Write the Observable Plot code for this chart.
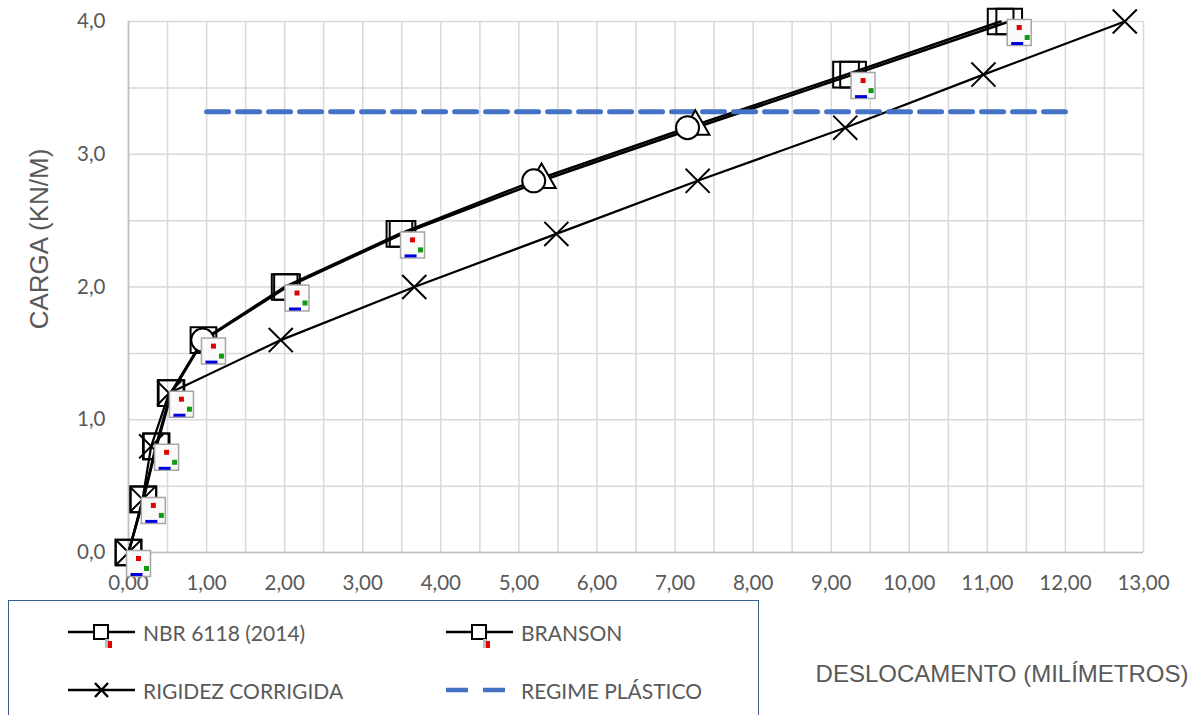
<!DOCTYPE html>
<html><head><meta charset="utf-8">
<script src="https://cdn.jsdelivr.net/npm/d3@7"></script>
<script src="https://cdn.jsdelivr.net/npm/@observablehq/plot@0.6"></script>
<style>
html,body{margin:0;padding:0;background:#fff;}
#wrap{position:relative;width:1200px;height:715px;overflow:hidden;}
#legend{position:absolute;left:8px;top:600px;width:751px;height:140px;border:1.5px solid #385D8A;box-sizing:border-box;background:#fff;}
.item{position:absolute;display:flex;align-items:center;font-family:Lato,sans-serif;font-size:21px;color:#595959;white-space:nowrap;}
.item svg{margin-right:8px;overflow:visible}
</style></head>
<body><div id="wrap"></div>
<script>
// ---- data ----
const loads = [0, 0.4, 0.8, 1.2, 1.6, 2.0, 2.4, 2.8, 3.2, 3.6, 4.0];
const nbrDisp = [0, 0.19, 0.35, 0.54, 0.95, 2.00, 3.47, 5.19, 7.16, 9.19, 11.17];
const bransonDisp = [0, 0.19, 0.36, 0.55, 0.96, 2.03, 3.51, 5.29, 7.26, 9.28, 11.28];
const rigidezDisp = [0, 0.18, 0.29, 0.52, 1.95, 3.66, 5.48, 7.29, 9.18, 10.95, 12.76];
const plasticLoad = 3.32;
const plasticDisp = [1.0, 12.0];
const xTicks = [0,1,2,3,4,5,6,7,8,9,10,11,12,13];
const yTicks = [0,1,2,3,4];
const seriesNames = ["NBR 6118 (2014)", "BRANSON", "RIGIDEZ CORRIGIDA", "REGIME PLÁSTICO"];
const xTitle = "DESLOCAMENTO (MILÍMETROS)";
const yTitle = "CARGA (KN/M)";

// ---- build ----
const nbr = loads.map((y, i) => ({x: nbrDisp[i], y, i}));
const branson = loads.map((y, i) => ({x: bransonDisp[i], y, i}));
const rigidez = loads.map((y, i) => ({x: rigidezDisp[i], y, i}));
const plastic = plasticDisp.map(x => ({x, y: plasticLoad}));

const nbrCircle = new Set([4, 7, 8]);
const bransonTri = new Set([7, 8]);
const pics = branson.filter(d => !bransonTri.has(d.i));

const sym = (f) => ({draw(ctx){ f(ctx); }});
const frameSym = sym(c => c.rect(-12, -13, 24, 26));
const dotSym = sym(c => c.rect(-2.5, -2.5, 5, 5));
const barSym = sym(c => c.rect(-6, -1.5, 12, 3));

const fmtX = d => d.toFixed(2).replace(".", ",");
const fmtY = d => d.toFixed(1).replace(".", ",");
const grid = {stroke: "#d9d9d9", strokeOpacity: 1, strokeWidth: 1.5};

const chart = Plot.plot({
  width: 1200, height: 715,
  marginLeft: 128, marginRight: 57, marginTop: 21, marginBottom: 163,
  style: {fontFamily: "Lato, sans-serif", fontSize: "20px", color: "#595959", background: "#fff"},
  x: {domain: [0, 13]},
  y: {domain: [0, 4]},
  marks: [
    Plot.gridX(d3.range(0, 13.01, 0.5), grid),
    Plot.gridY(d3.range(0, 4.01, 0.5), grid),
    Plot.ruleX([0], {stroke: "#bfbfbf", strokeWidth: 1.5}),
    Plot.ruleY([0], {stroke: "#bfbfbf", strokeWidth: 1.5}),
    Plot.axisX(xTicks, {tickFormat: fmtX, tickSize: 0, tickPadding: 23, label: null, fontSize: 20.5}),
    Plot.axisY(yTicks, {tickFormat: fmtY, tickSize: 0, tickPadding: 23, label: null, fontSize: 20.5}),
    Plot.text([xTitle], {frameAnchor: "bottom-right", textAnchor: "end", lineAnchor: "middle", dx: 45, dy: 122,
      fontFamily: "Liberation Sans, Arial, sans-serif", fontSize: 24, fill: "#595959"}),
    Plot.text([yTitle], {frameAnchor: "left", rotate: -90, textAnchor: "middle", lineAnchor: "middle", dx: -89, dy: -48,
      fontFamily: "Liberation Sans, Arial, sans-serif", fontSize: 26, fill: "#595959"}),
    // lines
    Plot.line(rigidez, {x: "x", y: "y", stroke: "#000", strokeWidth: 2.25}),
    Plot.line(branson, {x: "x", y: "y", stroke: "#000", strokeWidth: 2.5}),
    Plot.line(nbr, {x: "x", y: "y", stroke: "#000", strokeWidth: 2.5}),
    Plot.line(plastic, {x: "x", y: "y", stroke: "#4472C4", strokeWidth: 5, strokeDasharray: "22 9"}),
    // markers
    Plot.dot(rigidez, {x: "x", y: "y", symbol: "times", r: 11, stroke: "#000", strokeWidth: 2}),
    Plot.dot(branson.filter(d => !bransonTri.has(d.i)), {x: "x", y: "y", symbol: "square", r: 14.5, stroke: "#000", strokeWidth: 2, fill: "none"}),
    Plot.dot(branson.filter(d => bransonTri.has(d.i)), {x: "x", y: "y", symbol: "triangle", r: 10.5, dy: -1, stroke: "#000", strokeWidth: 2, fill: "#fff"}),
    Plot.dot(nbr.filter(d => !nbrCircle.has(d.i)), {x: "x", y: "y", symbol: "square", r: 14.5, stroke: "#000", strokeWidth: 2, fill: "none"}),
    Plot.dot(nbr.filter(d => nbrCircle.has(d.i)), {x: "x", y: "y", symbol: "circle", r: 11.5, stroke: "#000", strokeWidth: 2, fill: "#fff"}),
    // picture markers
    Plot.dot(pics, {x: "x", y: "y", symbol: frameSym, dx: 10, dy: 11, fill: "#fafafa", stroke: "#a6a6a6", strokeWidth: 1.5}),
    Plot.dot(pics, {x: "x", y: "y", symbol: dotSym, dx: 10, dy: 6, fill: "#e00000"}),
    Plot.dot(pics, {x: "x", y: "y", symbol: dotSym, dx: 18, dy: 16, fill: "#119911"}),
    Plot.dot(pics, {x: "x", y: "y", symbol: barSym, dx: 8, dy: 22, fill: "#0000dd"})
  ]
});
const wrap = document.getElementById("wrap");
wrap.appendChild(chart);

// ---- legend ----
const legend = document.createElement("div");
legend.id = "legend";
wrap.appendChild(legend);
const sqSwatch = `<svg width="67" height="30" viewBox="0 -15 67 30"><line x1="0" x2="67" y1="0" y2="0" stroke="#000" stroke-width="2.5"/><rect x="26" y="-7" width="14" height="14" fill="#fff" stroke="#000" stroke-width="2"/><rect x="37" y="7" width="4" height="9" fill="#bbb"/><rect x="40" y="9" width="4" height="7" fill="#e00000"/></svg>`;
const xSwatch = `<svg width="67" height="30" viewBox="0 -15 67 30"><line x1="0" x2="67" y1="0" y2="0" stroke="#000" stroke-width="2.5"/><path d="M27,-7L40,7M27,7L40,-7" stroke="#000" stroke-width="2.5"/></svg>`;
const dashSwatch = `<svg width="67" height="30" viewBox="0 -15 67 30"><line x1="0" x2="60" y1="0" y2="0" stroke="#4472C4" stroke-width="4.5" stroke-dasharray="22 15"/></svg>`;
const items = [
  {name: seriesNames[0], sw: sqSwatch, col: 0, row: 0},
  {name: seriesNames[1], sw: sqSwatch, col: 1, row: 0},
  {name: seriesNames[2], sw: xSwatch, col: 0, row: 1},
  {name: seriesNames[3], sw: dashSwatch, col: 1, row: 1}
];
for (const it of items) {
  const d = document.createElement("div");
  d.className = "item";
  d.style.left = (it.col ? 437 : 59) + "px";
  d.style.top = (it.row ? 74 : 16) + "px";
  d.innerHTML = it.sw + `<span>${it.name}</span>`;
  legend.appendChild(d);
}
</script></body></html>
